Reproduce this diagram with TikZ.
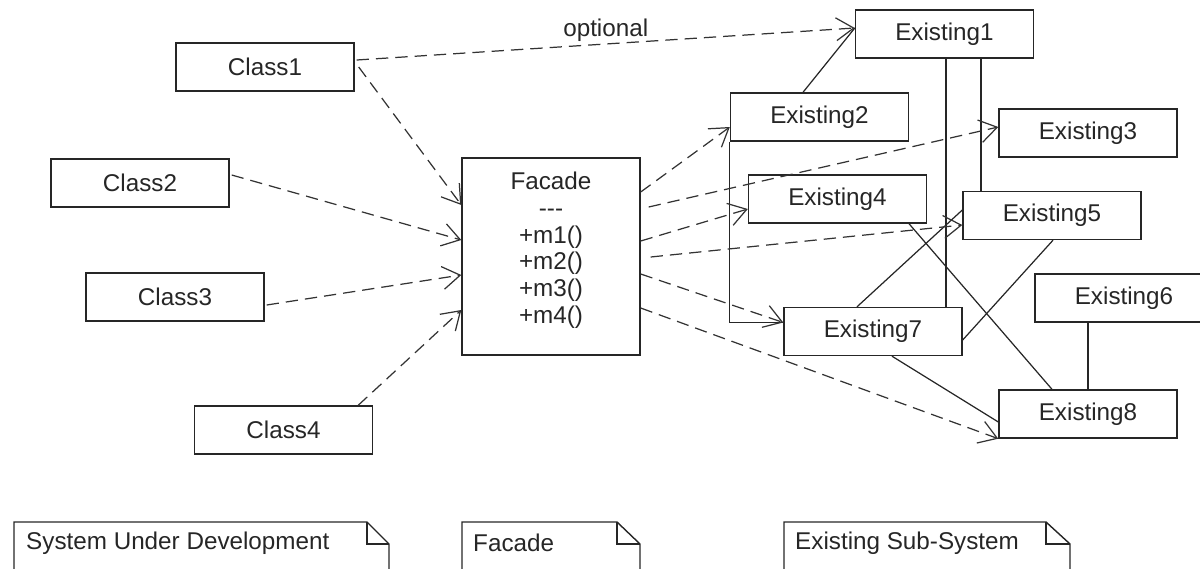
\documentclass[tikz,border=0pt]{standalone}
\usepackage{fontspec}
\setmainfont{Liberation Sans}
\usetikzlibrary{positioning, arrows.meta, calc}

\tikzset{
    cls/.style={draw=black!85, line width=0.8pt, minimum width=3.56cm, minimum height=0.96cm, inner sep=0pt},
    dep/.style={draw=black!80, line width=0.7pt, dash pattern=on 7pt off 4pt, -{Straight Barb[length=10pt, width=13pt]}},
    assoc/.style={draw=black!85, line width=0.7pt},
    notebox/.style={draw=black!85, line width=0.8pt},
}

\begin{document}
\begin{tikzpicture}[x=0.02cm, y=-0.02cm, font=\fontsize{13.8pt}{15.3pt}\selectfont, text=black!85]
    \useasboundingbox (0,0) rectangle (1200,568);

    % System under development
    \node[cls] (class1) at (265,67) {Class1};
    \node[cls] (class2) at (140,183) {Class2};
    \node[cls] (class3) at (175,297) {Class3};
    \node[cls] (class4) at (283.5,430) {Class4};

    % Facade
    \node[cls, minimum height=3.94cm] (facade) at (551,256.5) {};
    \node[align=center, anchor=north, inner sep=0pt] (facadeops) at ($(facade.north)+(0,14)$)
        {Facade\\-{}-{}-\\+m1()\\+m2()\\+m3()\\+m4()};

    % Existing sub-system
    \node[cls] (existing1) at (944.5,34) {Existing1};
    \node[cls] (existing2) at (819.5,117) {Existing2};
    \node[cls] (existing3) at (1088,133) {Existing3};
    \node[cls] (existing4) at (837.5,199) {Existing4};
    \node[cls] (existing5) at (1052,215.5) {Existing5};
    \node[cls] (existing6) at (1124,298) {Existing6};
    \node[cls] (existing7) at (873,331.5) {Existing7};
    \node[cls] (existing8) at (1088,414) {Existing8};

    % Links inside the existing sub-system
    \draw[assoc] ($(existing2.north)+(-16.5,0)$) -- ($(existing1.west)+(0,-6)$);
    \draw[assoc] ($(existing1.south)+(1.5,0)$) coordinate (e1a) -- (e1a |- existing7.north);
    \draw[assoc] ($(existing1.south)+(36.5,0)$) coordinate (e1b) -- (e1b |- existing5.north);
    \draw[assoc] (existing2.south west) |- ($(existing7.west)+(0,-9)$);
    \draw[assoc] ($(existing7.north)+(-16,0)$) -- ($(existing5.west)+(0,-5.5)$);
    \draw[assoc] ($(existing5.south)+(1,0)$) -- ($(existing7.east)+(0,8.5)$);
    \draw[assoc] ($(existing4.south)+(71.5,0)$) -- ($(existing8.north)+(-36,0)$);
    \draw[assoc] (existing8.north) -- (existing8.north |- existing6.south);
    \draw[assoc] ($(existing7.south)+(19,0)$) -- ($(existing8.west)+(0,8)$);

    % Dependencies to the facade
    \draw[dep] ($(class1.east)+(2,-7)$) -- node[pos=0.50, above, yshift=-2.5pt] (optlbl) {optional} ($(existing1.west)+(0,-6)$);
    \draw[dep] ($(class1.east)+(4,0)$) -- ($(facade.west)+(0,-51.5)$);
    \draw[dep] ($(class2.east)+(2,-8)$) -- ($(facade.west)+(0,-16.5)$);
    \draw[dep] ($(class3.east)+(2,8)$) -- ($(facade.west)+(0,18.5)$);
    \draw[dep] ($(class4.north east)+(-15,0)$) -- ($(facade.west)+(0,53.5)$);

    % Dependencies from the facade
    \draw[dep] ($(facade.east)+(0,-64.5)$) -- ($(existing2.west)+(0,10)$);
    \draw[dep] ($(facade.east)+(8,-49.5)$) -- ($(existing3.west)+(0,-6)$);
    \draw[dep] ($(facade.east)+(0,-15.5)$) -- ($(existing4.west)+(0,10)$);
    \draw[dep] ($(facade.east)+(10,0.5)$) -- ($(existing5.west)+(0,9.5)$);
    \draw[dep] ($(facade.east)+(0,17.5)$) -- ($(existing7.west)+(0,-9)$);
    \draw[dep] ($(facade.east)+(0,51.5)$) -- (existing8.south west);

    % Notes
    \draw[notebox] (14,580) |- (367,522) -- (389,544) -- (389,580);
    \draw[notebox] (367,522) |- (389,544);
    \node[anchor=west] (sysnote) at (20,543) {System Under Development};

    \draw[notebox] (462,580) |- (617,522) -- (640,544) -- (640,580);
    \draw[notebox] (617,522) |- (640,544);
    \node[anchor=west] (facnote) at (467,543) {Facade};

    \draw[notebox] (784,580) |- (1046,522) -- (1070,544) -- (1070,580);
    \draw[notebox] (1046,522) |- (1070,544);
    \node[anchor=west] (exnote) at (789,543) {Existing Sub-System};
\end{tikzpicture}
\end{document}
